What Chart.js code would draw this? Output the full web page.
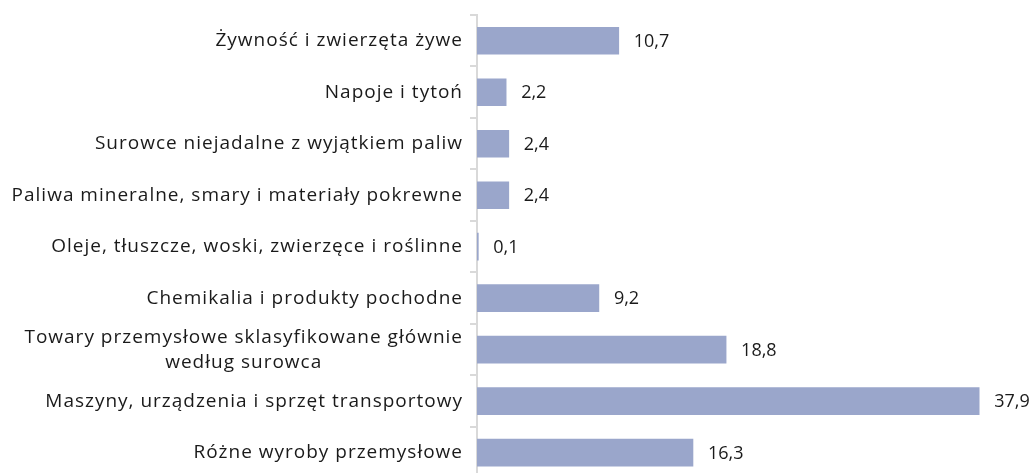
<!DOCTYPE html>
<html>
<head>
<meta charset="utf-8">
<script src="https://cdn.jsdelivr.net/npm/chart.js@4"></script>
<style>
  html, body { margin: 0; padding: 0; background: #fff; overflow: hidden; }
  #wrap { width: 1030px; height: 482px; }
</style>
</head>
<body>
<div id="wrap"><canvas id="chart"></canvas></div>
<script>
// Kategorie i wartości (udział w %)
const kategorie = [
    ["Żywność i zwierzęta żywe"],
    ["Napoje i tytoń"],
    ["Surowce niejadalne z wyjątkiem paliw"],
    ["Paliwa mineralne, smary i materiały pokrewne"],
    ["Oleje, tłuszcze, woski, zwierzęce i roślinne"],
    ["Chemikalia i produkty pochodne"],
    ["Towary przemysłowe sklasyfikowane głównie", "według surowca"],
    ["Maszyny, urządzenia i sprzęt transportowy"],
    ["Różne wyroby przemysłowe"]
];
const wartosci = [10.7, 2.2, 2.4, 2.4, 0.1, 9.2, 18.8, 37.9, 16.3];

const czcionka = '"Open Sans", sans-serif';
const kolorTekstu = '#1a1a1a';

// Etykiety osi Y rysowane ręcznie (wiele linii wyśrodkowanych względem siebie)
const etykietyY = {
    id: 'etykietyY',
    afterDraw(chart) {
        const ctx = chart.ctx;
        const y = chart.scales.y;
        const xPrawa = y.right - 14;
        ctx.save();
        ctx.font = '19px ' + czcionka;
        ctx.letterSpacing = '1px';
        ctx.fillStyle = kolorTekstu;
        ctx.textBaseline = 'middle';
        kategorie.forEach((linie, i) => {
            const yc = y.getPixelForTick(i);
            const lh = 25;
            const start = yc - (linie.length - 1) * lh / 2;
            const szer = Math.max(...linie.map(l => ctx.measureText(l).width));
            linie.forEach((l, j) => {
                const w = ctx.measureText(l).width;
                ctx.textAlign = 'left';
                ctx.fillText(l, xPrawa - szer / 2 - w / 2, start + j * lh);
            });
        });
        ctx.restore();
    }
};

// Wartości przy słupkach
const etykietyWartosci = {
    id: 'etykietyWartosci',
    afterDatasetsDraw(chart) {
        const ctx = chart.ctx;
        const meta = chart.getDatasetMeta(0);
        ctx.save();
        ctx.font = '18px ' + czcionka;
        ctx.fillStyle = kolorTekstu;
        ctx.textAlign = 'left';
        ctx.textBaseline = 'middle';
        meta.data.forEach((bar, i) => {
            const txt = wartosci[i].toFixed(1).replace('.', ',');
            ctx.fillText(txt, bar.x + 15, bar.y + 1);
        });
        ctx.restore();
    }
};

new Chart(document.getElementById('chart'), {
    type: 'bar',
    data: {
        labels: kategorie,
        datasets: [{
            data: wartosci,
            backgroundColor: '#9aa6cb',
            borderWidth: 0,
            barThickness: 27
        }]
    },
    options: {
        indexAxis: 'y',
        responsive: true,
        maintainAspectRatio: false,
        animation: false,
        layout: { padding: { top: 15, bottom: 2, right: 23, left: 0 } },
        plugins: { legend: { display: false }, tooltip: { enabled: false } },
        scales: {
            x: {
                display: false,
                min: 0,
                max: 40
            },
            y: {
                afterFit(scale) { scale.width = 477; },
                border: { color: '#d9d9d9', width: 2 },
                grid: { drawOnChartArea: false, color: '#d9d9d9', tickLength: 7, lineWidth: 2 },
                ticks: { color: 'transparent', font: { size: 1, family: czcionka }, callback: () => '' }
            }
        }
    },
    plugins: [etykietyY, etykietyWartosci]
});
</script>
</body>
</html>
